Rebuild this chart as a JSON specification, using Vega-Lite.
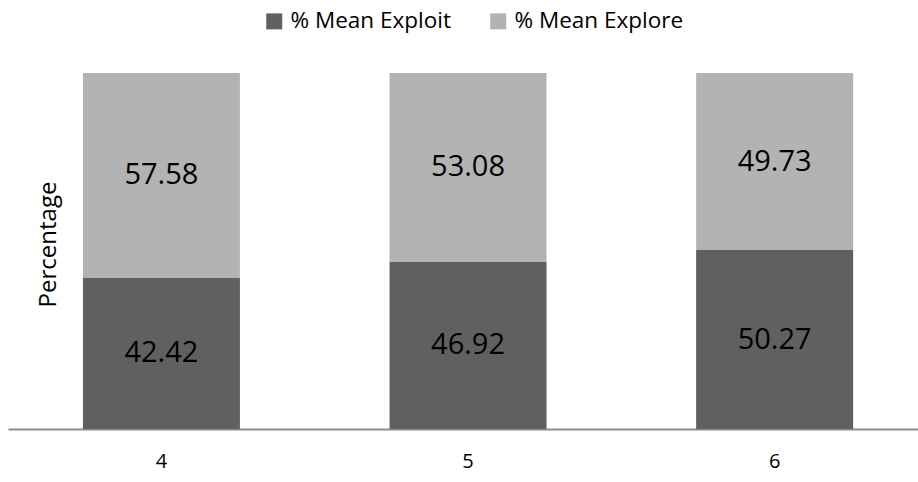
{
  "$schema": "https://vega.github.io/schema/vega-lite/v6.json",
  "width": 910,
  "height": 356,
  "autosize": {"type": "none"},
  "padding": {"left": 8, "top": 73, "right": 0, "bottom": 53},
  "background": "white",
  "config": {
    "view": {"stroke": null},
    "font": "Open Sans"
  },
  "data": {
    "values": [
      {"cat": "4", "series": "% Mean Exploit", "value": 42.42},
      {"cat": "4", "series": "% Mean Explore", "value": 57.58},
      {"cat": "5", "series": "% Mean Exploit", "value": 46.92},
      {"cat": "5", "series": "% Mean Explore", "value": 53.08},
      {"cat": "6", "series": "% Mean Exploit", "value": 50.27},
      {"cat": "6", "series": "% Mean Explore", "value": 49.73}
    ]
  },
  "encoding": {
    "x": {
      "field": "cat",
      "type": "nominal",
      "scale": {"paddingInner": 0.488, "paddingOuter": 0.228, "align": 0.536},
      "axis": {
        "title": null,
        "labelAngle": 0,
        "labelFontSize": 20,
        "labelColor": "#000000",
        "labelPadding": 22,
        "ticks": false,
        "domainColor": "#8c8c8c",
        "domainWidth": 2
      }
    }
  },
  "layer": [
    {
      "mark": {"type": "bar"},
      "encoding": {
        "y": {
          "field": "value",
          "type": "quantitative",
          "stack": "zero",
          "scale": {"domain": [0, 100], "nice": false},
          "axis": {
            "title": "Percentage",
            "labels": false,
            "ticks": false,
            "domain": false,
            "grid": false,
            "titleFontSize": 24,
            "titleFontWeight": "normal",
            "titleColor": "#000000",
            "titleAngle": -90,
            "titleBaseline": "alphabetic",
            "titleX": 47,
            "titleY": 171
          }
        },
        "color": {
          "field": "series",
          "type": "nominal",
          "scale": {"domain": ["% Mean Exploit", "% Mean Explore"], "range": ["#606060", "#b3b3b3"]},
          "legend": {
            "title": null,
            "orient": "none",
            "direction": "horizontal",
            "legendX": 255,
            "legendY": -63,
            "symbolType": "square",
            "symbolSize": 256,
            "symbolStrokeWidth": 0,
            "labelFontSize": 22.5,
            "labelLimit": 400,
            "labelColor": "#000000",
            "labelOffset": 5,
            "columnPadding": 36
          }
        },
        "order": {"field": "series", "sort": "ascending"}
      }
    },
    {
      "transform": [
        {"stack": "value", "groupby": ["cat"], "sort": [{"field": "series", "order": "ascending"}], "as": ["y0", "y1"]},
        {"fold": ["y0", "y1"], "as": ["edge", "pos"]},
        {"aggregate": [{"op": "mean", "field": "pos", "as": "mid"}], "groupby": ["cat", "series", "value"]}
      ],
      "mark": {"type": "text", "fontSize": 29, "color": "#000000", "baseline": "middle", "align": "center"},
      "encoding": {
        "y": {"field": "mid", "type": "quantitative"},
        "text": {"field": "value", "type": "quantitative", "format": ".2f"}
      }
    }
  ]
}
